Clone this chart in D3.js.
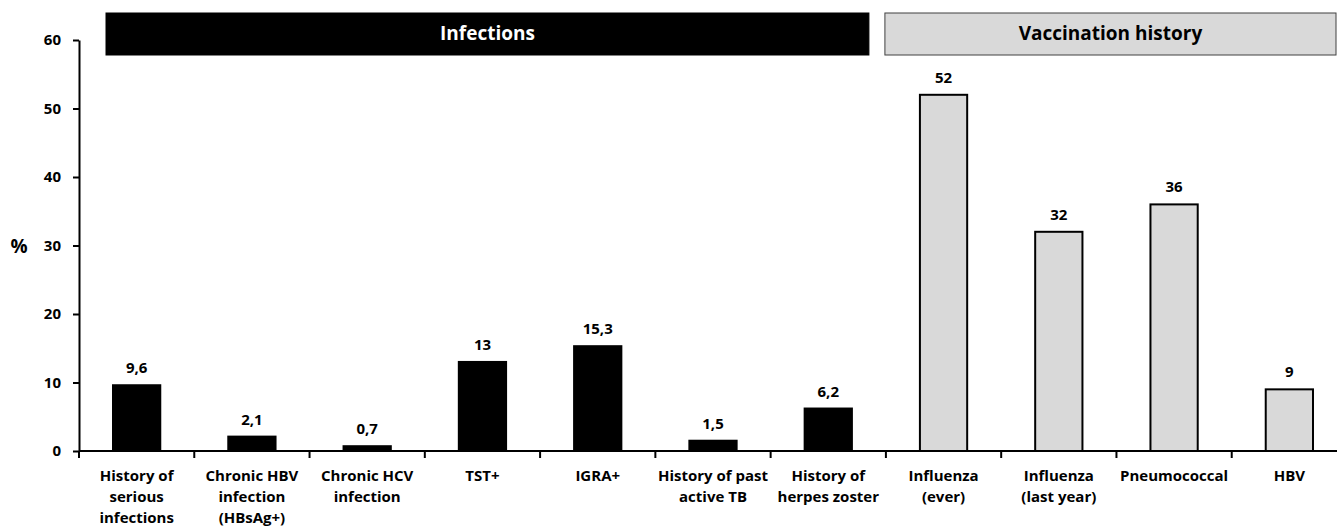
<!DOCTYPE html>
<html>
<head>
<meta charset="utf-8">
<script src="https://cdn.jsdelivr.net/npm/d3@7"></script>
<style>
  body { margin: 0; background: #fff; }
  text { font-family: "Open Sans", "DejaVu Sans", sans-serif; font-weight: bold; }
</style>
</head>
<body>
<div id="chart"></div>
<script>
// chart data
var categories = [
    ["History of", "serious", "infections"],
    ["Chronic HBV", "infection", "(HBsAg+)"],
    ["Chronic HCV", "infection"],
    ["TST+"],
    ["IGRA+"],
    ["History of past", "active TB"],
    ["History of", "herpes zoster"],
    ["Influenza", "(ever)"],
    ["Influenza", "(last year)"],
    ["Pneumococcal"],
    ["HBV"]
];
var values = [9.6, 2.1, 0.7, 13, 15.3, 1.5, 6.2, 52, 32, 36, 9];
var groups = ["inf", "inf", "inf", "inf", "inf", "inf", "inf", "vac", "vac", "vac", "vac"];
var groupNames = {inf: "Infections", vac: "Vaccination history"};
var yTicks = [0, 10, 20, 30, 40, 50, 60];

var fills = {inf: "#000", vac: "#d9d9d9"};

var svg = d3.select("#chart").append("svg").attr("width", 1337).attr("height", 527);

var xScale = d3.scaleBand()
               .domain(d3.range(values.length))
               .range([79, 1347])
               .paddingInner(0)
               .paddingOuter(0);

var yScale = d3.scaleLinear()
               .domain([0, 60])
               .range([451, 40]);

var bw = xScale.bandwidth();
var barW = bw * 0.41;

function fmt(v) { return String(v).replace(".", ","); }

// header banners
var groupKeys = ["inf", "vac"];
groupKeys.forEach(function(g) {
    var idx = d3.range(values.length).filter(function(i) { return groups[i] === g; });
    var x0 = xScale(idx[0]);
    var x1 = xScale(idx[idx.length - 1]) + bw;
    var left = g === "inf" ? x0 + 27 : x0 - 1;
    var right = g === "inf" ? x1 - 17 : 1336;
    svg.append("rect")
        .attr("x", left).attr("y", 13)
        .attr("width", right - left).attr("height", 42)
        .attr("fill", fills[g])
        .attr("stroke", g === "inf" ? "#000" : "#404040")
        .attr("stroke-width", 1);
    svg.append("text")
        .attr("x", (left + right) / 2).attr("y", 40)
        .attr("text-anchor", "middle")
        .style("font-size", "19px")
        .attr("fill", g === "inf" ? "#fff" : "#000")
        .text(groupNames[g]);
});

// bars
svg.selectAll(".bar")
    .data(values)
    .enter()
    .append("rect")
    .attr("class", "bar")
    .attr("x", function(d, i) { return xScale(i) + bw / 2 - barW / 2; })
    .attr("y", function(d) { return yScale(d); })
    .attr("width", barW)
    .attr("height", function(d) { return yScale(0) - yScale(d); })
    .attr("fill", function(d, i) { return fills[groups[i]]; })
    .attr("stroke", "#000")
    .attr("stroke-width", 2);

// value labels
svg.selectAll(".val")
    .data(values)
    .enter()
    .append("text")
    .attr("class", "val")
    .attr("x", function(d, i) { return xScale(i) + bw / 2; })
    .attr("y", function(d) { return yScale(d) - 12; })
    .attr("text-anchor", "middle")
    .style("font-size", "15px")
    .text(fmt);

// y axis
var yAxis = svg.append("g")
    .attr("transform", "translate(79,0)")
    .call(d3.axisLeft(yScale).tickValues(yTicks).tickSize(6).tickSizeOuter(0));
yAxis.select(".domain").attr("stroke-width", 2);
yAxis.selectAll(".tick line").attr("stroke-width", 2);
yAxis.selectAll(".tick text")
    .attr("x", -18)
    .style("font-size", "15px")
    .style("font-family", "'Open Sans', sans-serif")
    .style("font-weight", "bold");

// x axis with ticks at band edges
var xAxis = svg.append("g").attr("transform", "translate(0,451)");
xAxis.append("line")
    .attr("x1", 79).attr("x2", 1337)
    .attr("stroke", "#000").attr("stroke-width", 2);
xAxis.selectAll(".xtick")
    .data(d3.range(values.length + 1))
    .enter()
    .append("line")
    .attr("x1", function(i) { return i < values.length ? xScale(i) : xScale(i - 1) + bw; })
    .attr("x2", function(i) { return i < values.length ? xScale(i) : xScale(i - 1) + bw; })
    .attr("y1", 0).attr("y2", 7)
    .attr("stroke", "#000").attr("stroke-width", 2);

// category labels
var labels = svg.selectAll(".xlab")
    .data(categories)
    .enter()
    .append("text")
    .attr("class", "xlab")
    .attr("text-anchor", "middle")
    .style("font-size", "15px")
    .attr("transform", function(d, i) { return "translate(" + (xScale(i) + bw / 2) + ",481)"; });
labels.selectAll("tspan")
    .data(function(d) { return d; })
    .enter()
    .append("tspan")
    .attr("x", 0)
    .attr("y", function(d, j) { return j * 21; })
    .text(function(d) { return d; });

// y axis title
svg.append("text")
    .attr("x", 19).attr("y", 253)
    .attr("text-anchor", "middle")
    .style("font-size", "19px")
    .text("%");
</script>
</body>
</html>
